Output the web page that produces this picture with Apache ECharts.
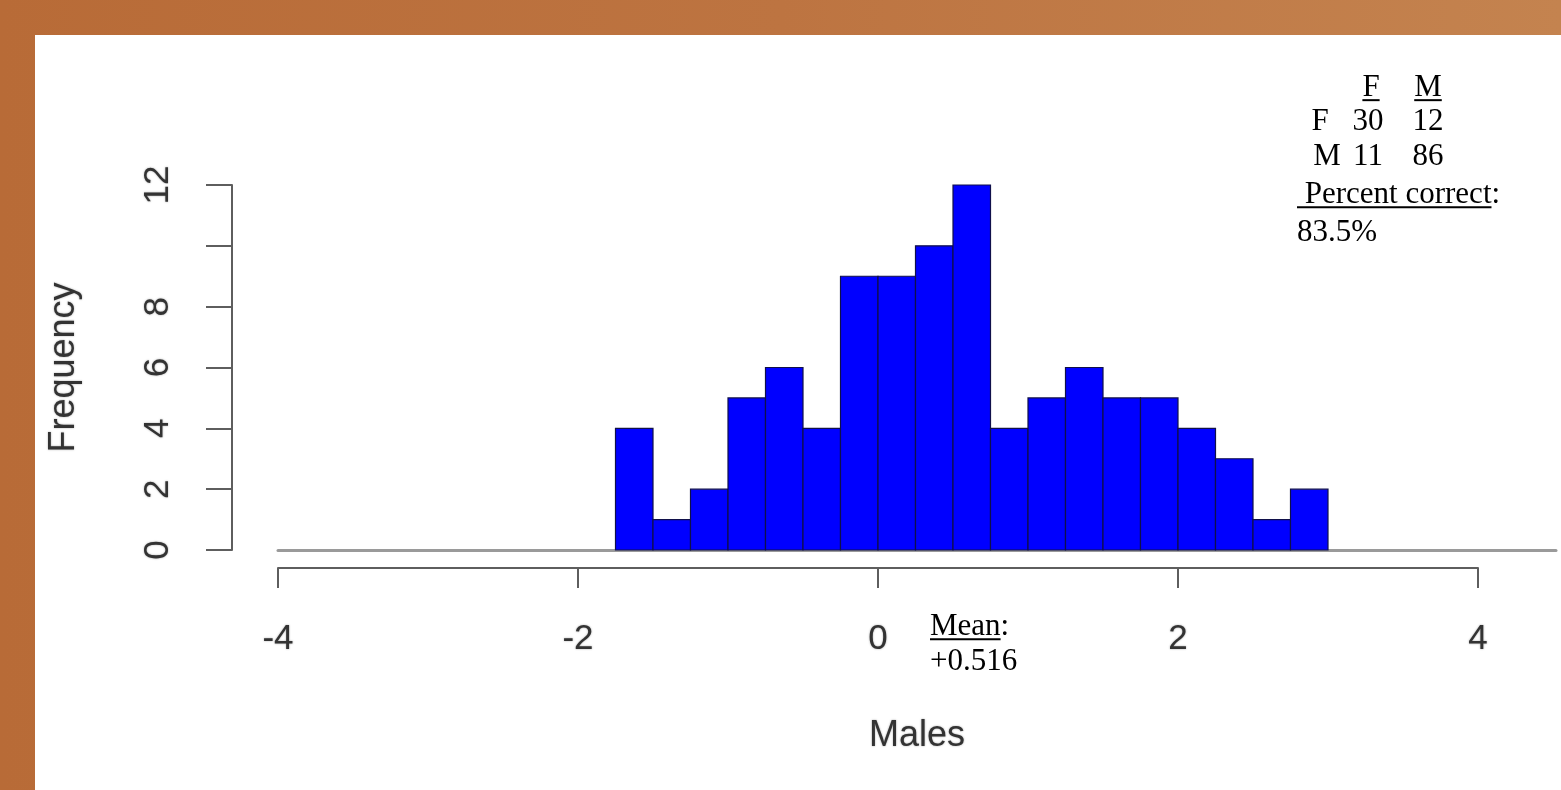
<!DOCTYPE html>
<html>
<head>
<meta charset="utf-8">
<script src="https://cdn.jsdelivr.net/npm/echarts@6/dist/echarts.min.js"></script>
<style>
  html, body { margin: 0; padding: 0; width: 1561px; height: 790px; overflow: hidden; }
  body { background: linear-gradient(to right, #B86B37 0%, #BD7441 50%, #C4834F 100%); position: relative; }
  #paper { position: absolute; left: 35px; top: 35px; right: 0; bottom: 0; background: #ffffff; }
  #chart { position: absolute; left: 0; top: 0; width: 1561px; height: 790px; }
</style>
</head>
<body>
<div id="paper"></div>
<div id="chart"></div>
<script>
// Histogram of the discriminant scores for males (bin width 0.25)
const binStarts = [-1.75, -1.5, -1.25, -1.0, -0.75, -0.5, -0.25, 0.0, 0.25, 0.5,
                   0.75, 1.0, 1.25, 1.5, 1.75, 2.0, 2.25, 2.5, 2.75];
const binWidth = 0.25;
const counts = [4, 1, 2, 5, 6, 4, 9, 9, 10, 12, 4, 5, 6, 5, 5, 4, 3, 1, 2];

const xTicks = [-4, -2, 0, 2, 4];
const yTicks = [0, 2, 4, 6, 8, 10, 12];
const yTickLabels = [0, 2, 4, 6, 8, 12];   // "10" is left out where labels would crowd

// Classification table (rows: actual, columns: predicted)
const tableCols = ['F', 'M'];
const tableRows = ['F', 'M'];
const tableValues = [[30, 12], [11, 86]];
const percentCorrect = '83.5%';
const meanLabel = '+0.516';

const serif = '"Liberation Serif", "Times New Roman", serif';
const sans = '"Liberation Sans", Arial, Helvetica, sans-serif';
const axisGray = '#5e5e5e';
const textGray = '#333333';
const softText = { textShadowColor: 'rgba(50,50,50,0.45)', textShadowBlur: 2 };

const measureCtx = document.createElement('canvas').getContext('2d');
function textWidth(str, size) {
  measureCtx.font = size + 'px ' + serif;
  return measureCtx.measureText(str).width;
}

const histData = binStarts.map((s, i) => [s, s + binWidth, counts[i]]);

const chart = echarts.init(document.getElementById('chart'), null, { renderer: 'canvas' });

// Annotation texts (serif, black) with underlines
const annoSize = 31;
const graphics = [];
function addText(str, x, y, align, underlineText) {
  graphics.push({
    type: 'text', x: x, y: y, z: 100,
    style: { text: str, font: annoSize + 'px ' + serif, fill: '#000',
             align: align, verticalAlign: 'middle' }
  });
  if (underlineText) {
    const full = textWidth(str, annoSize);
    const w = textWidth(underlineText, annoSize);
    let x0 = x;
    if (align === 'center') x0 = x - full / 2;
    graphics.push({
      type: 'rect', z: 100,
      shape: { x: x0, y: y + annoSize * 0.36, width: w, height: 2 },
      style: { fill: '#000' }
    });
  }
}
const colX = [1371, 1428];
const rowLabelX = [1320, 1327];
const rowY = [122, 157];
addText(tableCols[0], colX[0], 88, 'center', tableCols[0]);
addText(tableCols[1], colX[1], 88, 'center', tableCols[1]);
tableRows.forEach((r, i) => {
  addText(r, rowLabelX[i], rowY[i], 'center');
  addText(String(tableValues[i][0]), 1368, rowY[i], 'center');
  addText(String(tableValues[i][1]), colX[1], rowY[i], 'center');
});
addText(' Percent correct:', 1297, 195, 'left', ' Percent correct');
addText(percentCorrect, 1297, 233, 'left');
addText('Mean:', 930, 627, 'left', 'Mean');
addText(meanLabel, 930, 662, 'left');

const option = {
  animation: false,
  backgroundColor: 'transparent',
  grid: [
    { left: 278, top: 185, width: 1278, height: 365, containLabel: false },
    { left: 278, top: 185, width: 1200, height: 365, containLabel: false }
  ],
  xAxis: [
    { // baseline across the whole plotting region, carries the axis title
      type: 'value', gridIndex: 0, min: -4, max: 4.52,
      axisLine: { show: true, lineStyle: { color: '#9a9a9a', width: 3 } },
      axisTick: { show: false }, axisLabel: { show: false }, splitLine: { show: false },
      name: 'Males', nameLocation: 'middle', nameGap: 168,
      nameTextStyle: Object.assign({ fontSize: 36, fontFamily: sans, color: textGray }, softText)
    },
    { // visible x axis
      type: 'value', gridIndex: 1, min: -4, max: 4, interval: 2, offset: 18,
      axisLine: { show: true, onZero: false, lineStyle: { color: axisGray, width: 2 } },
      axisTick: { show: true, length: 20, lineStyle: { color: axisGray, width: 2 } },
      axisLabel: Object.assign({ show: true, margin: 54, fontSize: 35, fontFamily: sans,
                   color: textGray, customValues: xTicks }, softText),
      splitLine: { show: false }
    }
  ],
  yAxis: [
    {
      type: 'value', gridIndex: 0, min: 0, max: 12, interval: 2, offset: 46,
      axisLine: { show: true, onZero: false, lineStyle: { color: axisGray, width: 2 } },
      axisTick: { show: true, length: 26, lineStyle: { color: axisGray, width: 2 },
                  customValues: yTicks },
      axisLabel: Object.assign({ show: true, rotate: 90, margin: 56, fontSize: 35, fontFamily: sans,
                   color: textGray, customValues: yTickLabels }, softText),
      splitLine: { show: false },
      name: 'Frequency', nameLocation: 'middle', nameGap: 150,
      nameTextStyle: Object.assign({ fontSize: 36, fontFamily: sans, color: textGray }, softText)
    },
    { type: 'value', gridIndex: 1, min: 0, max: 12, show: false }
  ],
  series: [
    {
      type: 'custom',
      xAxisIndex: 0, yAxisIndex: 0,
      data: histData,
      encode: { x: [0, 1], y: 2 },
      renderItem: function (params, api) {
        const p0 = api.coord([api.value(0), api.value(2)]);
        const p1 = api.coord([api.value(1), 0]);
        return {
          type: 'rect',
          shape: { x: p0[0], y: p0[1], width: p1[0] - p0[0], height: p1[1] - p0[1] },
          style: { fill: '#0000ff', stroke: '#10104a', lineWidth: 1.2 }
        };
      },
      z: 3
    }
  ],
  graphic: graphics
};
chart.setOption(option);
</script>
</body>
</html>
